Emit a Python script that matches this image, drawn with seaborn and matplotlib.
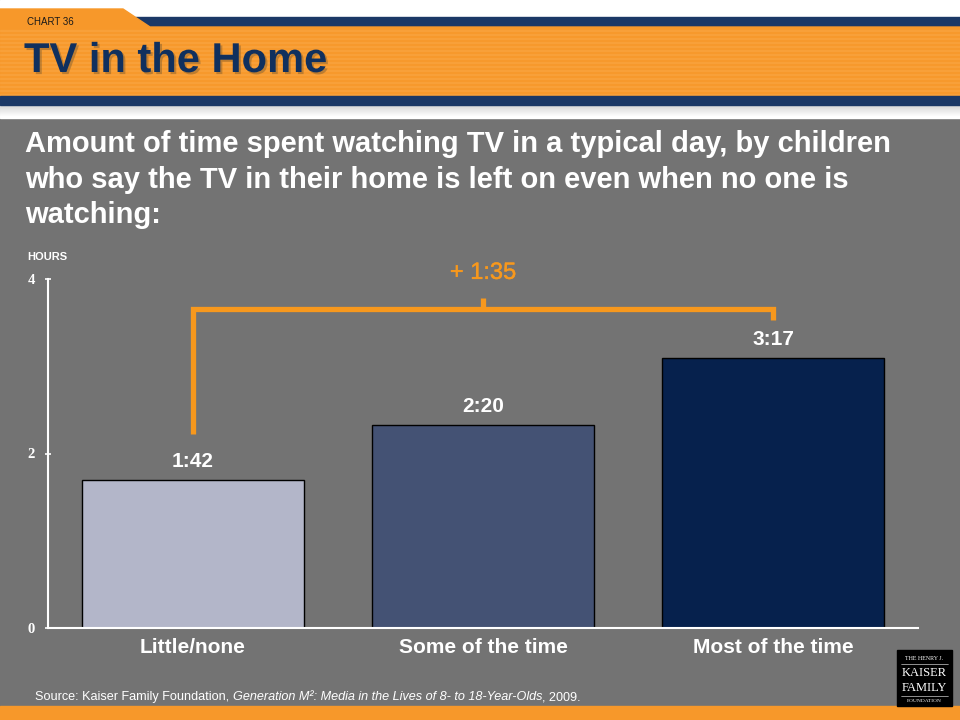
import matplotlib
matplotlib.use("Agg")
import matplotlib.pyplot as plt
import matplotlib.patheffects as pe
from matplotlib.patches import Rectangle, Polygon
from matplotlib import font_manager
import seaborn as sns
import numpy as np

# ---- data ----
categories = ["Little/none", "Some of the time", "Most of the time"]
bar_heights = [1.70, 2.33, 3.10]          # hours, as drawn
value_labels = ["1:42", "2:20", "3:17"]
bar_colors = ["#B3B6C9", "#445274", "#06214D"]
difference_label = "+ 1:35"
y_ticks = [0, 2, 4]

sns.set_theme(style="white")
plt.rcParams['font.family'] = ['Liberation Sans', 'DejaVu Sans']

names = {f.name for f in font_manager.fontManager.ttflist}
narrow = 'Liberation Sans Narrow' if 'Liberation Sans Narrow' in names else 'Liberation Sans'

W, H = 960, 720
fig = plt.figure(figsize=(9.6, 7.2), dpi=100)
BG = "#737373"
fig.patch.set_facecolor(BG)

def fy(py):
    return 1 - py / H

def fx(px):
    return px / W

ORANGE = "#F7982A"
NAVY = "#1B3866"

# header
fig.patches.append(Rectangle((0, fy(118)), 1, 118 / H, transform=fig.transFigure, color="white", zorder=0))
grad = np.linspace(0, 1, 12)
for i, g in enumerate(grad):
    c = 0.84 + 0.16 * g
    fig.patches.append(Rectangle((0, fy(105 + i + 1)), 1, 1 / H, transform=fig.transFigure,
                                 color=(c, c, c), zorder=1))
fig.patches.append(Rectangle((fx(135), fy(27)), 1, 10 / H, transform=fig.transFigure, color=NAVY, zorder=1))
fig.patches.append(Polygon([(0, fy(9)), (fx(123), fy(9)), (fx(150), fy(27)), (1, fy(27)), (1, fy(96)), (0, fy(96))],
                           closed=True, transform=fig.transFigure, color=ORANGE, zorder=2))
for py in range(30, 95, 4):
    fig.patches.append(Rectangle((0, fy(py + 1)), 1, 1 / H, transform=fig.transFigure,
                                 color="#F9A440", zorder=2, alpha=0.6))
fig.patches.append(Rectangle((0, fy(105)), 1, 9 / H, transform=fig.transFigure, color=NAVY, zorder=2))
fig.patches.append(Rectangle((0, 0), 1, 14 / H, transform=fig.transFigure, color=ORANGE, zorder=2))

fig.text(fx(27), fy(22), "CHART 36", fontsize=7, color="#1a1a1a", family=[narrow, 'DejaVu Sans'],
         va="center", ha="left", zorder=5)
fig.text(fx(24), fy(61), "TV in the Home", fontsize=30, fontweight="bold", color="#10305E",
         family=[narrow, 'DejaVu Sans'], va="center", ha="left", zorder=5,
         path_effects=[pe.withSimplePatchShadow(offset=(1.5, -1.5), shadow_rgbFace="#7a5a30", alpha=0.45)])

# subtitle
sub_lines = ["Amount of time spent watching TV in a typical day, by children",
             "who say the TV in their home is left on even when no one is",
             "watching:"]
for i, line in enumerate(sub_lines):
    fig.text(fx(25), fy(144 + 35.5 * i), line, fontsize=21, fontweight="bold", color="white",
             va="center", ha="left")

# axes
ax = fig.add_axes([fx(48), fy(628), (918 - 48) / W, (628 - 279) / H])
ax.set_facecolor(BG)
sns.barplot(x=categories, y=bar_heights, hue=categories, palette=bar_colors, legend=False,
            width=0.766, edgecolor="black", linewidth=1, saturation=1, ax=ax)
ax.set_xlim(-0.5, 2.5)
ax.set_ylim(0, 4)
ax.set_yticks(y_ticks)
ax.set_yticklabels([str(t) for t in y_ticks], family=['Liberation Serif'], fontweight="bold",
                   fontsize=10.5, color="white")
ax.tick_params(axis="y", direction="inout", length=5, width=1.2, color="white", pad=7, left=True)
ax.tick_params(axis="x", length=0, pad=7)
for lbl in ax.get_xticklabels():
    lbl.set_fontweight("bold")
    lbl.set_fontsize(15)
    lbl.set_color("white")
ax.set_xlabel("")
ax.set_ylabel("")
for s in ["top", "right"]:
    ax.spines[s].set_visible(False)
for s in ["left", "bottom"]:
    ax.spines[s].set_color("white")
    ax.spines[s].set_linewidth(1.5)

for i, (v, lab) in enumerate(zip(bar_heights, value_labels)):
    ax.text(i, v + 0.21, lab, ha="center", va="center", fontsize=15, fontweight="bold", color="white")

# bracket annotation
BR = "#F7981D"
br_y = 3.655
ax.plot([0, 0, 2, 2], [bar_heights[0] + 0.52, br_y, br_y, br_y - 0.13], color=BR, lw=3.8,
        solid_joinstyle="miter", solid_capstyle="butt", clip_on=False)
ax.plot([1, 1], [br_y, br_y + 0.13], color=BR, lw=3.8, solid_capstyle="butt", clip_on=False)
ax.text(1, 4.07, difference_label, ha="center", va="center", fontsize=17, color=BR, clip_on=False,
        path_effects=[pe.withStroke(linewidth=0.3, foreground=BR)])

fig.text(fx(27), fy(257), "HOURS", fontsize=8, fontweight="bold", color="white", va="center", ha="left")

# source line with italic part
fig.canvas.draw()
renderer = fig.canvas.get_renderer()
parts = [("Source: Kaiser Family Foundation, ", "normal"),
         ("Generation M²: Media in the Lives of 8- to 18-Year-Olds", "italic"),
         (", 2009.", "normal")]
xpos = fx(35)
for txt, style in parts:
    t = fig.text(xpos, fy(697), txt, fontsize=9.1, style=style, color="white", va="center", ha="left")
    bb = t.get_window_extent(renderer)
    xpos = bb.x1 / W

# logo
fig.patches.append(Rectangle((fx(897), fy(706)), 55 / W, 56 / H, transform=fig.transFigure, color="black", zorder=3))
serif = ['Liberation Serif', 'DejaVu Serif']
fig.text(fx(924.5), fy(659), "THE HENRY J.", fontsize=4.3, family=serif, color="white", ha="center", va="center", zorder=4)
fig.text(fx(924.5), fy(673), "KAISER", fontsize=9, family=serif, color="white", ha="center", va="center", zorder=4)
fig.text(fx(924.5), fy(688), "FAMILY", fontsize=9, family=serif, color="white", ha="center", va="center", zorder=4)
fig.text(fx(924.5), fy(701), "FOUNDATION", fontsize=3.9, family=serif, color="white", ha="center", va="center", zorder=4)
for py in [664, 696]:
    fig.lines.append(plt.Line2D([fx(901), fx(948)], [fy(py), fy(py)], transform=fig.transFigure,
                                color="white", lw=0.4, zorder=4))

fig.savefig("out.png", dpi=100, facecolor=fig.get_facecolor())
